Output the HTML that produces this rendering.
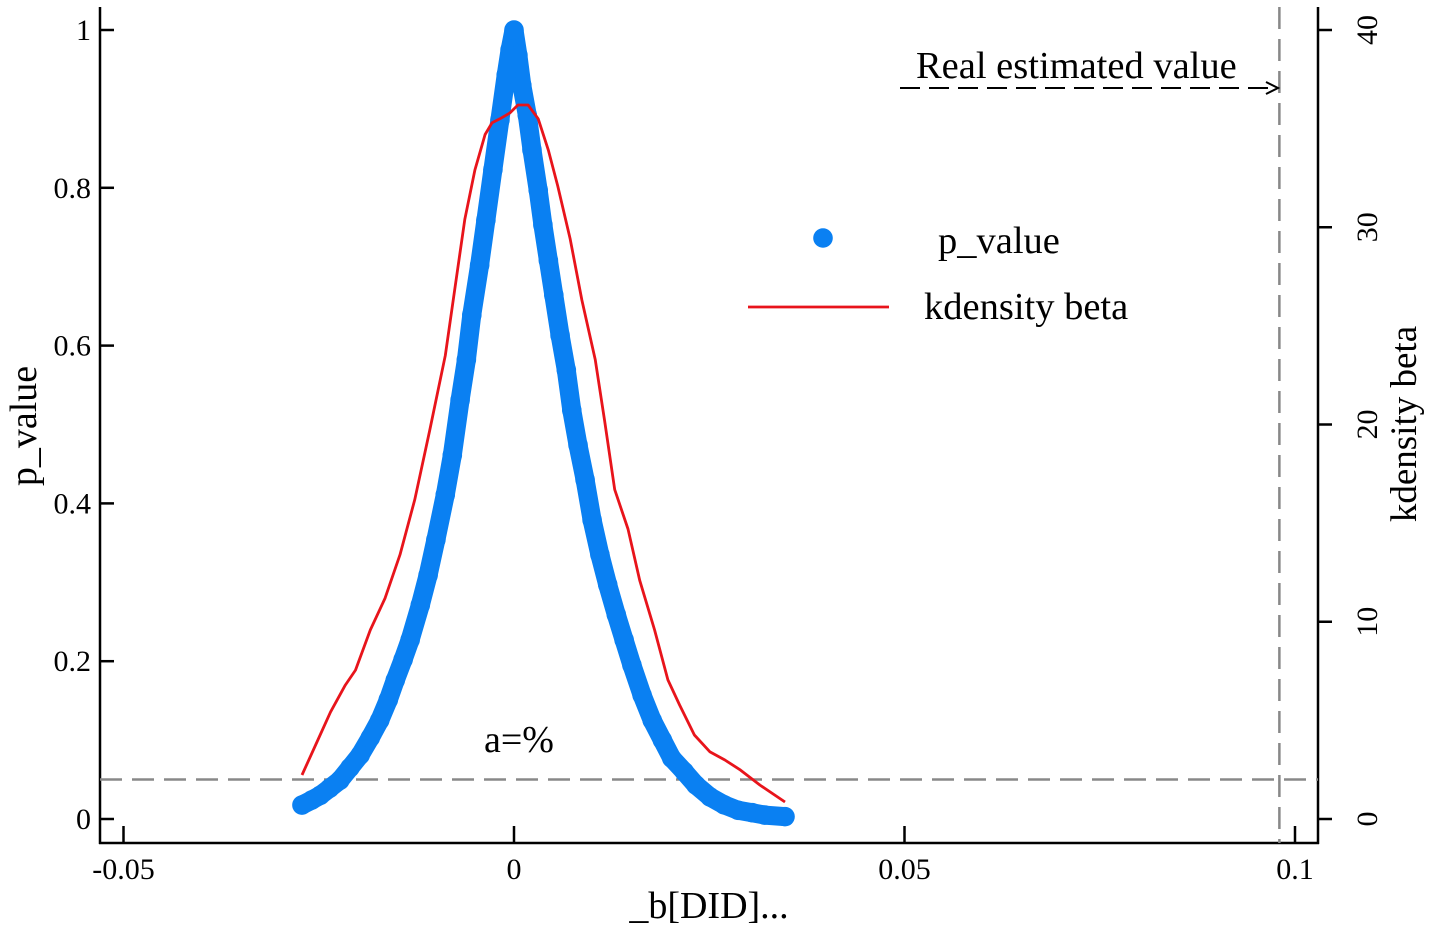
<!DOCTYPE html>
<html><head><meta charset="utf-8"><style>
html,body{margin:0;padding:0;background:#fff;}
svg{display:block;font-family:"Liberation Serif",serif;}
</style></head><body>
<svg id="chart" width="1430" height="931" viewBox="0 0 1430 931">
<g id="axes"></g>
<g id="marks"></g>
</svg>
<script>
const xTicks=[-0.05,0,0.05,0.1];
const xTickLabels=["-0.05","0","0.05","0.1"];
const pTicks=[0,0.2,0.4,0.6,0.8,1];
const pTickLabels=["0","0.2","0.4","0.6","0.8","1"];
const dTicks=[0,10,20,30,40];
const dTickLabels=["0","10","20","30","40"];
const pBeta=[-0.02715,-0.0259,-0.0248,-0.0236,-0.0223,-0.0210,-0.0197,-0.0184,-0.0172,-0.0161,-0.0152,-0.0142,-0.0133,-0.0120,-0.0110,-0.0100,-0.0088,-0.0079,-0.0069,-0.0061,-0.0054,-0.0044,-0.0036,-0.0027,-0.0018,-0.0010,-0.0005,0,
0.0005,0.0010,0.0017,0.0023,0.0031,0.0037,0.0044,0.0051,0.0059,0.0067,0.0074,0.0082,0.0091,0.0100,0.0110,0.0120,0.0131,0.0141,0.0151,0.0164,0.0177,0.0190,0.0202,0.0218,0.0233,0.0251,0.0269,0.0287,0.0305,0.0321,0.0347];
const pValues=[0.0177,0.024,0.030,0.039,0.049,0.065,0.081,0.103,0.125,0.151,0.176,0.202,0.227,0.271,0.309,0.354,0.411,0.461,0.531,0.582,0.639,0.702,0.759,0.823,0.886,0.943,0.975,1.0,
0.968,0.930,0.892,0.848,0.797,0.753,0.708,0.664,0.613,0.569,0.518,0.474,0.430,0.379,0.335,0.297,0.259,0.227,0.195,0.157,0.125,0.100,0.077,0.060,0.043,0.028,0.018,0.011,0.008,0.005,0.003];
const kBeta=[-0.02715,-0.0254,-0.0235,-0.0216,-0.0203,-0.0184,-0.0165,-0.0146,-0.0127,-0.0108,-0.0088,-0.0076,-0.0063,-0.0050,-0.0037,-0.0028,-0.0018,-0.0005,0.0005,0.0018,0.0031,0.0044,0.0056,0.0072,0.0087,0.0104,0.0116,0.0129,0.0146,0.0161,0.0180,0.0197,0.0212,0.0231,0.0251,0.0270,0.0290,0.0315,0.0347];
const kDensity=[2.23,3.75,5.42,6.79,7.55,9.58,11.2,13.4,16.2,19.7,23.5,26.8,30.4,32.9,34.7,35.3,35.5,35.8,36.2,36.2,35.5,33.9,32.1,29.4,26.3,23.3,20.2,16.7,14.7,12.1,9.58,7.05,5.78,4.26,3.40,2.99,2.48,1.72,0.86];
const alphaLevel=0.05, realEstimate=0.098;

const NS="http://www.w3.org/2000/svg";
const X=v=>514+v*7810, YP=v=>819-v*789, YD=v=>819-v*19.725;
const axes=document.getElementById('axes'), marks=document.getElementById('marks');
function mk(tag,attrs,parent,txt){const e=document.createElementNS(NS,tag);for(const k in attrs)e.setAttribute(k,attrs[k]);if(txt!==undefined)e.textContent=txt;parent.appendChild(e);return e;}

let e;
e=mk('line',{x1:100,y1:7,x2:100,y2:844,stroke:'#000','stroke-width':2.5},axes);


e=mk('line',{x1:1318,y1:7,x2:1318,y2:844,stroke:'#000','stroke-width':2.5},axes);


e=mk('line',{x1:99,y1:843,x2:1319,y2:843,stroke:'#000','stroke-width':2.5},axes);


xTicks.forEach((t,i)=>{
 const l=mk('line',{x1:X(t),y1:843,x2:X(t),y2:826,stroke:'#000','stroke-width':2.5},axes);
 
 
 const tx=mk('text',{x:X(t),y:879,'text-anchor':'middle','font-size':30},axes,xTickLabels[i]);
 
 
});
pTicks.forEach((t,i)=>{
 const l=mk('line',{x1:100,y1:YP(t),x2:114,y2:YP(t),stroke:'#000','stroke-width':2.5},axes);
 
 
 const tx=mk('text',{x:91,y:YP(t)+10,'text-anchor':'end','font-size':30},axes,pTickLabels[i]);
 
 
});
dTicks.forEach((t,i)=>{
 const l=mk('line',{x1:1318,y1:YD(t),x2:1332,y2:YD(t),stroke:'#000','stroke-width':2.5},axes);
 
 
 const tx=mk('text',{x:0,y:0,'text-anchor':'middle','font-size':30,transform:`translate(1377,${YD(t)}) rotate(-90)`},axes,dTickLabels[i]);
 
 
});
e=mk('text',{x:0,y:0,'text-anchor':'middle','font-size':38,transform:'translate(36,426) rotate(-90)'},axes,'p_value');


e=mk('text',{x:0,y:0,'text-anchor':'middle','font-size':37,transform:'translate(1416,424) rotate(-90)'},axes,'kdensity beta');


e=mk('text',{x:709,y:918,'text-anchor':'middle','font-size':38},axes,'_b[DID]...');



// reference lines
e=mk('line',{x1:100,y1:YP(alphaLevel),x2:1318,y2:YP(alphaLevel),stroke:'#888','stroke-width':2.5,'stroke-dasharray':'22 10'},marks);


e=mk('line',{x1:X(realEstimate),y1:7,x2:X(realEstimate),y2:843,stroke:'#888','stroke-width':2.5,'stroke-dasharray':'22 10'},marks);



// blue dot band (dense overlapping markers)
const bpts=pBeta.map((b,i)=>X(b).toFixed(1)+','+YP(pValues[i]).toFixed(1)).join(' ');
e=mk('polyline',{points:bpts,fill:'none',stroke:'#0a80f2','stroke-width':19,'stroke-linejoin':'round','stroke-linecap':'round'},marks);


pBeta.forEach((b,i)=>{
 const c=mk('circle',{cx:X(b),cy:YP(pValues[i]),r:9.8,fill:'#0a80f2'},marks);
 
 
});

// red density line
const pts=kBeta.map((b,i)=>X(b).toFixed(1)+','+YD(kDensity[i]).toFixed(1)).join(' ');
e=mk('polyline',{points:pts,fill:'none',stroke:'#e8141b','stroke-width':2.8,'stroke-linejoin':'round'},marks);



// annotations
e=mk('text',{x:484,y:752,'font-size':38},marks,'a=%');


e=mk('text',{x:916,y:78,'font-size':38.5},marks,'Real estimated value');


e=mk('line',{x1:900,y1:88,x2:1276,y2:88,stroke:'#000','stroke-width':2,'stroke-dasharray':'20 9'},marks);


e=mk('polyline',{points:'1266,82 1278,88 1266,94',fill:'none',stroke:'#000','stroke-width':2},marks);



// legend
const lg=mk('g',{},marks);


e=mk('circle',{cx:823,cy:238,r:9.8,fill:'#0a80f2'},lg);


e=mk('text',{x:938,y:253,'font-size':38.5},lg,'p_value');


e=mk('line',{x1:748,y1:307,x2:889,y2:307,stroke:'#e8141b','stroke-width':2.8},lg);


e=mk('text',{x:924,y:319,'font-size':38.5},lg,'kdensity beta');


</script>
</body></html>
